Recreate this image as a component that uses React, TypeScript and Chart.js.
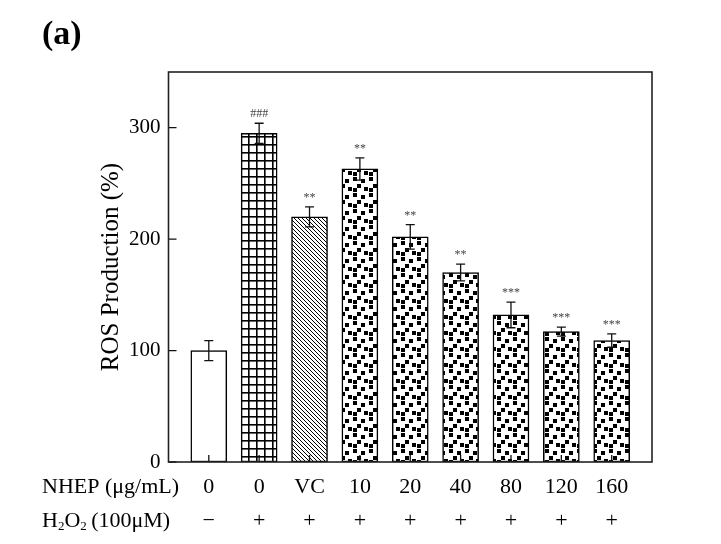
import React, { useEffect, useRef } from "react";
import { Chart, registerables } from "chart.js";

Chart.register(...registerables);

// ---- data ----
const doseLabels = ["0", "0", "VC", "10", "20", "40", "80", "120", "160"];
const h2o2Labels = ["\u2212", "+", "+", "+", "+", "+", "+", "+", "+"];
const rosValues = [100, 295, 220, 263, 202, 170, 132, 117, 109];
const rosErrors = [9, 9, 9, 10, 11, 7.5, 11.5, 4, 6];
const sigLabels = ["", "###", "**", "**", "**", "**", "***", "***", "***"];
const fillKinds = ["white", "grid", "hatch", "dots", "dots", "dots", "dots", "dots", "dots"];
const yTickValues = [0, 100, 200, 300];
const yTitle = "ROS Production (%)";
const rowHeader1 = "NHEP (\u03bcg/mL)";
const panelLabel = "(a)";

const SERIF = '"Liberation Serif", "Times New Roman", serif';

function makeTile(size: number, draw: (c: CanvasRenderingContext2D) => void) {
  const cv = document.createElement("canvas");
  cv.width = size;
  cv.height = size;
  const c = cv.getContext("2d")!;
  c.fillStyle = "#ffffff";
  c.fillRect(0, 0, size, size);
  draw(c);
  return cv;
}

function makePatterns(ctx: CanvasRenderingContext2D) {
  const grid = makeTile(8, (c) => {
    c.fillStyle = "#000";
    c.fillRect(0, 0, 8, 1.6);
    c.fillRect(0, 0, 1.6, 8);
  });
  const hatch = makeTile(4, (c) => {
    c.strokeStyle = "#000";
    c.lineWidth = 1.0;
    c.beginPath();
    c.moveTo(-1, -1);
    c.lineTo(5, 5);
    c.moveTo(-1, 3);
    c.lineTo(1, 5);
    c.moveTo(3, -1);
    c.lineTo(5, 1);
    c.stroke();
  });
  const dots = makeTile(16, (c) => {
    c.fillStyle = "#000";
    const s = 4;
    c.fillRect(1, 1, s, s);
    c.fillRect(9, 3, s, s);
    c.fillRect(5, 8, s, s);
    c.fillRect(12, 11, s, s);
    c.fillRect(1, 12, s, s);
  });
  return {
    white: "#ffffff",
    grid: ctx.createPattern(grid, "repeat"),
    hatch: ctx.createPattern(hatch, "repeat"),
    dots: ctx.createPattern(dots, "repeat"),
  } as Record<string, any>;
}

const decorPlugin = {
  id: "decor",
  afterDatasetsDraw(chart: any) {
    const ctx: CanvasRenderingContext2D = chart.ctx;
    const { left, right, top, bottom } = chart.chartArea;
    const xs = chart.scales.x;
    const ys = chart.scales.y;
    ctx.save();
    // error bars + significance marks
    rosValues.forEach((v, i) => {
      const cx = xs.getPixelForValue(i);
      const yt = ys.getPixelForValue(v + rosErrors[i]);
      const yb = ys.getPixelForValue(v - rosErrors[i]);
      ctx.strokeStyle = "#111";
      ctx.lineWidth = 1.3;
      ctx.beginPath();
      ctx.moveTo(cx, yt);
      ctx.lineTo(cx, yb);
      ctx.moveTo(cx - 4.5, yt);
      ctx.lineTo(cx + 4.5, yt);
      ctx.moveTo(cx - 4.5, yb);
      ctx.lineTo(cx + 4.5, yb);
      ctx.stroke();
      if (sigLabels[i]) {
        ctx.fillStyle = "#444";
        ctx.font = `12px ${SERIF}`;
        ctx.textAlign = "center";
        ctx.textBaseline = "middle";
        ctx.fillText(sigLabels[i], cx, yt - 9);
      }
    });
    // inward tick marks
    ctx.strokeStyle = "#111";
    ctx.lineWidth = 1.3;
    ctx.beginPath();
    yTickValues.forEach((t) => {
      const py = ys.getPixelForValue(t);
      ctx.moveTo(left, py);
      ctx.lineTo(left + 8, py);
    });
    doseLabels.forEach((_, i) => {
      const px = xs.getPixelForValue(i);
      ctx.moveTo(px, bottom);
      ctx.lineTo(px, bottom - 7);
    });
    ctx.stroke();
    // frame
    ctx.strokeStyle = "#222";
    ctx.lineWidth = 1.6;
    ctx.strokeRect(left, top, right - left, bottom - top);
    ctx.restore();
  },
  afterDraw(chart: any) {
    const ctx: CanvasRenderingContext2D = chart.ctx;
    const { top, bottom } = chart.chartArea;
    ctx.save();
    ctx.fillStyle = "#000";
    // panel label
    ctx.font = `bold 34px ${SERIF}`;
    ctx.textAlign = "left";
    ctx.textBaseline = "alphabetic";
    ctx.fillText(panelLabel, 42, 44);
    // y title
    ctx.save();
    ctx.translate(118, (top + bottom) / 2);
    ctx.rotate(-Math.PI / 2);
    ctx.font = `25px ${SERIF}`;
    ctx.textAlign = "center";
    ctx.textBaseline = "alphabetic";
    ctx.fillText(yTitle, 0, 0);
    ctx.restore();
    // row headers
    ctx.textAlign = "left";
    ctx.textBaseline = "middle";
    ctx.font = `22px ${SERIF}`;
    ctx.fillText(rowHeader1, 42, 487);
    // H2O2 (100μM) with subscripts
    let x = 42;
    const y2 = 521;
    const parts: [string, boolean][] = [["H", false], ["2", true], ["O", false], ["2", true], ["\u2009(100\u03bcM)", false]];
    parts.forEach(([t, sub]) => {
      ctx.font = sub ? `13px ${SERIF}` : `22px ${SERIF}`;
      ctx.fillText(t, x, sub ? y2 + 6 : y2);
      x += ctx.measureText(t).width;
    });
    ctx.restore();
  },
};

export default function App() {
  const ref = useRef<HTMLCanvasElement | null>(null);
  useEffect(() => {
    const canvas = ref.current!;
    const ctx = canvas.getContext("2d")!;
    const pats = makePatterns(ctx);
    const chart = new Chart(ctx, {
      type: "bar",
      data: {
        datasets: [
          {
            data: rosValues.map((v, i) => ({ x: i, y: v })),
            backgroundColor: fillKinds.map((k) => pats[k]),
            borderColor: "#000",
            borderWidth: 1.5,
            barThickness: 36,
            borderSkipped: false,
          },
        ],
      },
      options: {
        responsive: false,
        animation: false,
        devicePixelRatio: 1,
        layout: { padding: { top: 72, right: 69, left: 0, bottom: 0 } },
        plugins: { legend: { display: false }, tooltip: { enabled: false } },
        scales: {
          x: {
            type: "linear",
            offset: false,
            min: -0.8,
            max: 8.8,
            afterBuildTicks: (s: any) => {
              s.ticks = doseLabels.map((_, i) => ({ value: i }));
            },
            afterFit: (s: any) => {
              s.height = 82;
            },
            grid: { display: false, drawTicks: false },
            border: { display: false },
            ticks: {
              padding: 8,
              autoSkip: false,
              maxRotation: 0,
              color: "#000",
              font: { family: SERIF, size: 22, lineHeight: 1.545 },
              callback: (v: any) => [doseLabels[v], h2o2Labels[v]],
            },
          },
          y: {
            min: 0,
            max: 350,
            afterBuildTicks: (s: any) => {
              s.ticks = yTickValues.map((v) => ({ value: v }));
            },
            afterFit: (s: any) => {
              s.width = 168.5;
            },
            grid: { display: false, drawTicks: false },
            border: { display: false },
            ticks: {
              padding: 8,
              color: "#000",
              font: { family: SERIF, size: 21 },
            },
          },
        },
      },
      plugins: [decorPlugin],
    } as any);
    return () => chart.destroy();
  }, []);
  return (
    <div style={{ position: "absolute", left: 0, top: 0, width: 721, height: 544, background: "#fff" }}>
      <canvas ref={ref} width={721} height={544} style={{ width: 721, height: 544, display: "block" }} />
    </div>
  );
}
